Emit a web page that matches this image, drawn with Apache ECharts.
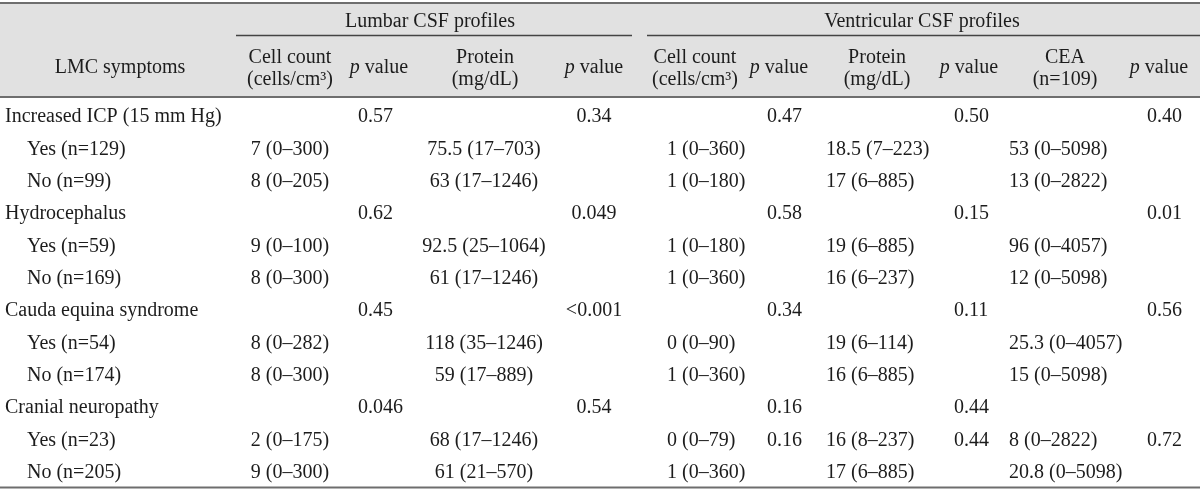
<!DOCTYPE html>
<html><head><meta charset="utf-8">
<script src="https://cdn.jsdelivr.net/npm/echarts@6/dist/echarts.min.js"></script>
<style>html,body{margin:0;padding:0;background:#fff}#c{width:1200px;height:492px}</style>
</head><body><div id="c"></div>
<script>
// ---------- data ----------
const groupHeaders = ['Lumbar CSF profiles', 'Ventricular CSF profiles'];
const stubHeader = 'LMC symptoms';
const subHeaders = [
  ['Cell count', '(cells/cm³)'],
  ['{i|p} value'],
  ['Protein', '(mg/dL)'],
  ['{i|p} value'],
  ['Cell count', '(cells/cm³)'],
  ['{i|p} value'],
  ['Protein', '(mg/dL)'],
  ['{i|p} value'],
  ['CEA', '(n=109)'],
  ['{i|p} value']
];
const rowLabels = ['Increased ICP (15 mm Hg)', 'Yes (n=129)', 'No (n=99)',
  'Hydrocephalus', 'Yes (n=59)', 'No (n=169)',
  'Cauda equina syndrome', 'Yes (n=54)', 'No (n=174)',
  'Cranial neuropathy', 'Yes (n=23)', 'No (n=205)'];
const rowLevel = [0, 1, 1, 0, 1, 1, 0, 1, 1, 0, 1, 1];
const lumbarCell = ['', '7 (0–300)', '8 (0–205)', '', '9 (0–100)', '8 (0–300)', '', '8 (0–282)', '8 (0–300)', '', '2 (0–175)', '9 (0–300)'];
const lumbarCellP = ['0.57', '', '', '0.62', '', '', '0.45', '', '', '0.046', '', ''];
const lumbarProtein = ['', '75.5 (17–703)', '63 (17–1246)', '', '92.5 (25–1064)', '61 (17–1246)', '', '118 (35–1246)', '59 (17–889)', '', '68 (17–1246)', '61 (21–570)'];
const lumbarProteinP = ['0.34', '', '', '0.049', '', '', '<0.001', '', '', '0.54', '', ''];
const ventCell = ['', '1 (0–360)', '1 (0–180)', '', '1 (0–180)', '1 (0–360)', '', '0 (0–90)', '1 (0–360)', '', '0 (0–79)', '1 (0–360)'];
const ventCellP = ['0.47', '', '', '0.58', '', '', '0.34', '', '', '0.16', '0.16', ''];
const ventProtein = ['', '18.5 (7–223)', '17 (6–885)', '', '19 (6–885)', '16 (6–237)', '', '19 (6–114)', '16 (6–885)', '', '16 (8–237)', '17 (6–885)'];
const ventProteinP = ['0.50', '', '', '0.15', '', '', '0.11', '', '', '0.44', '0.44', ''];
const cea = ['', '53 (0–5098)', '13 (0–2822)', '', '96 (0–4057)', '12 (0–5098)', '', '25.3 (0–4057)', '15 (0–5098)', '', '8 (0–2822)', '20.8 (0–5098)'];
const ceaP = ['0.40', '', '', '0.01', '', '', '0.56', '', '', '', '0.72', ''];

// ---------- layout (positions / styles) ----------
const FONT = '"Liberation Serif", "Times New Roman", serif';
const FS = 20;
const TXT = '#1c1c1c';
const RULE = '#6e6e6e';
const colLayout = [
  { data: lumbarCell, x: 290, align: 'center' },
  { data: lumbarCellP, x: 358, align: 'left' },
  { data: lumbarProtein, x: 484, align: 'center' },
  { data: lumbarProteinP, x: 594, align: 'center' },
  { data: ventCell, x: 667, align: 'left' },
  { data: ventCellP, x: 767, align: 'left' },
  { data: ventProtein, x: 826, align: 'left' },
  { data: ventProteinP, x: 954, align: 'left' },
  { data: cea, x: 1009, align: 'left' },
  { data: ceaP, x: 1147, align: 'left' }
];
const headerCenters = [290, 379, 485, 594, 695, 779, 877, 969, 1065, 1159];
const indent = [5, 27];

function textSeries(texts, xs, aligns) {
  return {
    type: 'custom',
    coordinateSystem: 'cartesian2d',
    silent: true,
    data: texts.map((t, i) => [xs[i], i]),
    renderItem: function (params, api) {
      const t = texts[params.dataIndex];
      if (!t) return null;
      const p = api.coord([api.value(0), api.value(1)]);
      return {
        type: 'text', x: p[0], y: p[1],
        style: { text: t, fill: TXT, fontSize: FS, fontFamily: FONT,
                 align: aligns[params.dataIndex], verticalAlign: 'middle' }
      };
    }
  };
}

const series = [];
series.push(textSeries(rowLabels, rowLevel.map(l => indent[l]), rowLabels.map(() => 'left')));
colLayout.forEach(c => {
  series.push(textSeries(c.data, c.data.map(() => c.x), c.data.map(() => c.align)));
});

// header graphics
const richIt = { i: { fontStyle: 'italic', fontSize: FS, fontFamily: FONT, fill: TXT } };
const graphics = [
  { type: 'rect', shape: { x: 0, y: 3, width: 1200, height: 94 }, style: { fill: '#e1e1e1' }, z: -10 },
  { type: 'line', shape: { x1: 0, y1: 3, x2: 1200, y2: 3 }, style: { stroke: RULE, lineWidth: 2 } },
  { type: 'line', shape: { x1: 0, y1: 97, x2: 1200, y2: 97 }, style: { stroke: RULE, lineWidth: 2 } },
  { type: 'line', shape: { x1: 0, y1: 487.5, x2: 1200, y2: 487.5 }, style: { stroke: RULE, lineWidth: 2 } },
  { type: 'line', shape: { x1: 236, y1: 35.5, x2: 632, y2: 35.5 }, style: { stroke: '#444', lineWidth: 1.3 } },
  { type: 'line', shape: { x1: 647, y1: 35.5, x2: 1200, y2: 35.5 }, style: { stroke: '#444', lineWidth: 1.3 } },
  { type: 'text', x: 430, y: 22, style: { text: groupHeaders[0], fill: TXT, fontSize: FS, fontFamily: FONT, align: 'center', verticalAlign: 'middle' } },
  { type: 'text', x: 922, y: 22, style: { text: groupHeaders[1], fill: TXT, fontSize: FS, fontFamily: FONT, align: 'center', verticalAlign: 'middle' } },
  { type: 'text', x: 120, y: 68, style: { text: stubHeader, fill: TXT, fontSize: FS, fontFamily: FONT, align: 'center', verticalAlign: 'middle' } }
];
subHeaders.forEach((lines, i) => {
  const ys = lines.length === 2 ? [58, 80] : [68];
  lines.forEach((ln, j) => {
    graphics.push({ type: 'text', x: headerCenters[i], y: ys[j],
      style: { text: ln, rich: richIt, fill: TXT, fontSize: FS, fontFamily: FONT, align: 'center', verticalAlign: 'middle' } });
  });
});

const chart = echarts.init(document.getElementById('c'), null, { renderer: 'canvas' });
chart.setOption({
  animation: false,
  backgroundColor: '#fff',
  grid: { left: 0, right: 0, top: 101, bottom: 3 },
  xAxis: { type: 'value', min: 0, max: 1200, show: false },
  yAxis: { type: 'category', data: rowLabels, inverse: true, show: false },
  graphic: graphics,
  series: series
});
</script></body></html>
